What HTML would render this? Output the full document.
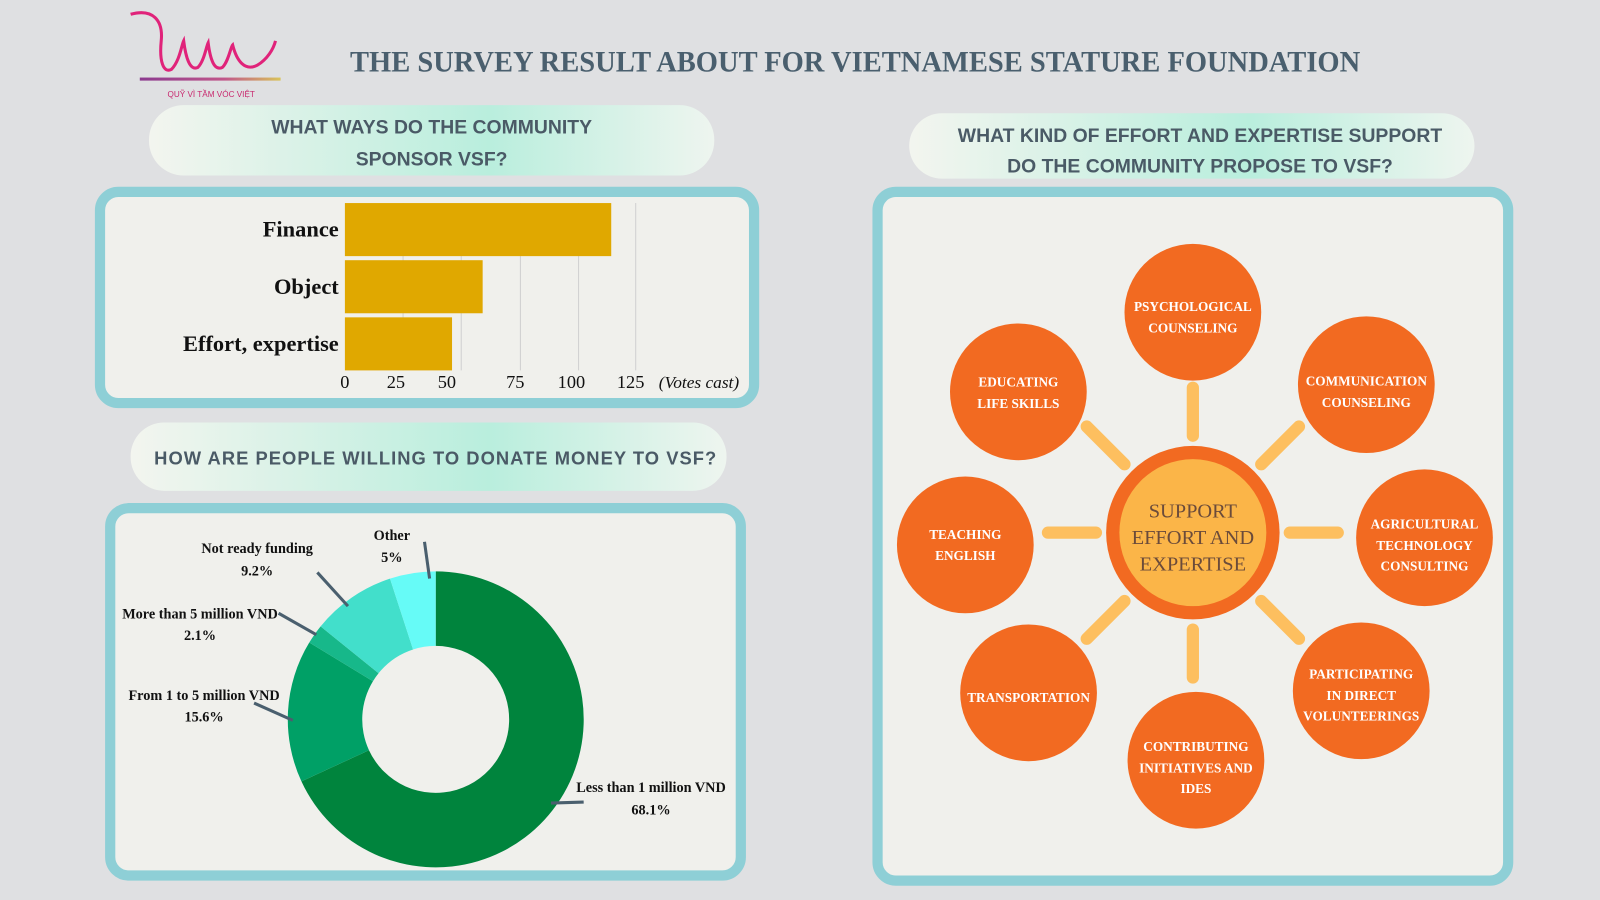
<!DOCTYPE html>
<html><head><meta charset="utf-8"><style>
html,body{margin:0;padding:0;background:#dfe0e2;}
svg{display:block;}
</style></head><body>
<svg width="1600" height="900" viewBox="0 0 1568 882" xmlns="http://www.w3.org/2000/svg">
<defs>
<linearGradient id="pg" x1="0" x2="1" y1="0" y2="0">
<stop offset="0" stop-color="#f3f5ef"/><stop offset="0.6" stop-color="#b9eedd"/><stop offset="1" stop-color="#eef5ef"/>
</linearGradient>
<linearGradient id="lg" x1="0" x2="1"><stop offset="0" stop-color="#8b3a8f"/><stop offset="0.6" stop-color="#c1568a"/><stop offset="1" stop-color="#d9c45a"/></linearGradient>
</defs>
<rect width="1568" height="882" fill="#dfe0e2"/>
<path d="M128 14 C150 8 160 20 158 40 C156 60 160 72 168 68 C176 60 178 44 180 40 C182 56 186 70 194 66 C200 60 202 46 204 42 C206 58 210 70 218 66 C224 60 226 46 228 44 C232 60 240 70 252 64 C262 58 268 48 270 40" fill="none" stroke="#e0237a" stroke-width="3"/>
<rect x="137" y="76" width="138" height="3" fill="url(#lg)"/>
<text x="207" y="95" font-family="Liberation Sans, sans-serif" font-size="8" fill="#c8286e" text-anchor="middle">QUỸ VÌ TẦM VÓC VIỆT</text>
<text x="343" y="70" textLength="990" lengthAdjust="spacingAndGlyphs" font-family="Liberation Serif, serif" font-weight="bold" font-size="29" fill="#4a5f6e">THE SURVEY RESULT ABOUT FOR VIETNAMESE STATURE FOUNDATION</text>
<rect x="146" y="103" width="554" height="69" rx="34" fill="url(#pg)"/>
<text font-family="Liberation Sans, sans-serif" font-weight="bold" font-size="19" fill="#4a5a66" text-anchor="middle"><tspan x="423" y="131">WHAT WAYS DO THE COMMUNITY</tspan><tspan x="423" y="162">SPONSOR VSF?</tspan></text>
<rect x="98" y="188" width="641" height="207" rx="18" fill="#f0f0ec" stroke="#8ecfd6" stroke-width="10"/>
<g stroke="#d0d0d0" stroke-width="1">
<line x1="395" y1="199" x2="395" y2="363"/><line x1="452" y1="199" x2="452" y2="363"/><line x1="510" y1="199" x2="510" y2="363"/><line x1="567" y1="199" x2="567" y2="363"/><line x1="623" y1="199" x2="623" y2="363"/>
</g>
<rect x="338" y="199" width="261" height="52" fill="#e0a800"/>
<rect x="338" y="255" width="135" height="52" fill="#e0a800"/>
<rect x="338" y="311" width="105" height="52" fill="#e0a800"/>
<g font-family="Liberation Serif, serif" font-weight="bold" font-size="22" fill="#111" text-anchor="end">
<text x="332" y="232">Finance</text><text x="332" y="288">Object</text><text x="332" y="344">Effort, expertise</text>
</g>
<g font-family="Liberation Serif, serif" font-size="18" fill="#111" text-anchor="middle">
<text x="338" y="380">0</text><text x="388" y="380">25</text><text x="438" y="380">50</text><text x="505" y="380">75</text><text x="560" y="380">100</text><text x="618" y="380">125</text>
<text x="685" y="380" font-style="italic" font-size="17">(Votes cast)</text>
</g>
<rect x="128" y="414" width="584" height="67" rx="33" fill="url(#pg)"/>
<text x="427" y="455" font-family="Liberation Sans, sans-serif" font-weight="bold" font-size="18" letter-spacing="1" fill="#4a5a66" text-anchor="middle">HOW ARE PEOPLE WILLING TO DONATE MONEY TO VSF?</text>
<rect x="108" y="498" width="618" height="360" rx="18" fill="#f0f0ec" stroke="#8ecfd6" stroke-width="10"/>
<path d="M427 560 A145 145 0 1 1 295.4 765.8 L361.6 735.2 A72 72 0 1 0 427 633 Z" fill="#00843d"/>
<path d="M295.4 765.8 A145 145 0 0 1 303.1 629.7 L365.5 667.6 A72 72 0 0 0 361.6 735.2 Z" fill="#00a066"/>
<path d="M303.1 629.7 A145 145 0 0 1 314.2 613.9 L371 659.8 A72 72 0 0 0 365.5 667.6 Z" fill="#17b88a"/>
<path d="M314.2 613.9 A145 145 0 0 1 382.2 567.1 L404.8 636.5 A72 72 0 0 0 371 659.8 Z" fill="#42dfcb"/>
<path d="M382.2 567.1 A145 145 0 0 1 427 560 L427 633 A72 72 0 0 0 404.8 636.5 Z" fill="#66fbf7"/>
<g stroke="#4a5f6e" stroke-width="3">
<line x1="416" y1="531" x2="421" y2="567"/><line x1="311" y1="561" x2="341" y2="594"/><line x1="273" y1="601" x2="310" y2="622"/><line x1="249" y1="689" x2="287" y2="706"/><line x1="540" y1="787" x2="572" y2="786"/>
</g>
<g font-family="Liberation Serif, serif" font-weight="bold" font-size="14" fill="#111" text-anchor="middle">
<text x="384" y="529">Other</text><text x="384" y="551">5%</text>
<text x="252" y="542">Not ready funding</text><text x="252" y="564">9.2%</text>
<text x="196" y="606">More than 5 million VND</text><text x="196" y="627">2.1%</text>
<text x="200" y="686">From 1 to 5 million VND</text><text x="200" y="707">15.6%</text>
<text x="638" y="776">Less than 1 million VND</text><text x="638" y="798">68.1%</text>
</g>
<rect x="891" y="111" width="554" height="64" rx="32" fill="url(#pg)"/>
<text font-family="Liberation Sans, sans-serif" font-weight="bold" font-size="19" fill="#4a5a66" text-anchor="middle"><tspan x="1176" y="139">WHAT KIND OF EFFORT AND EXPERTISE SUPPORT</tspan><tspan x="1176" y="169">DO THE COMMUNITY PROPOSE TO VSF?</tspan></text>
<rect x="860" y="188" width="618" height="675" rx="18" fill="#f0f0ec" stroke="#8ecfd6" stroke-width="10"/>
<g stroke="#fdbf5f" stroke-width="12" stroke-linecap="round" transform="translate(1169 522)">
<line x1="0" y1="-95" x2="0" y2="-142"/><line x1="0" y1="95" x2="0" y2="142"/><line x1="95" y1="0" x2="142" y2="0"/><line x1="-95" y1="0" x2="-142" y2="0"/>
<line x1="67" y1="-67" x2="104" y2="-104"/><line x1="-67" y1="-67" x2="-104" y2="-104"/><line x1="67" y1="67" x2="104" y2="104"/><line x1="-67" y1="67" x2="-104" y2="104"/>
</g>
<circle cx="1169" cy="522" r="85" fill="#f26a21"/>
<circle cx="1169" cy="522" r="72" fill="#fbb548"/>
<text font-family="Liberation Serif, serif" font-size="20" fill="#6b4b3a" text-anchor="middle"><tspan x="1169" y="507">SUPPORT</tspan><tspan x="1169" y="533">EFFORT AND</tspan><tspan x="1169" y="559">EXPERTISE</tspan></text>
<g fill="#f26a21">
<circle cx="1169" cy="306" r="67"/><circle cx="1339" cy="377" r="67"/><circle cx="1396" cy="527" r="67"/><circle cx="1334" cy="677" r="67"/>
<circle cx="1172" cy="745" r="67"/><circle cx="1008" cy="679" r="67"/><circle cx="946" cy="534" r="67"/><circle cx="998" cy="384" r="67"/>
</g>
<g font-family="Liberation Serif, serif" font-weight="bold" font-size="13" fill="#fff" text-anchor="middle">
<text><tspan x="1169" y="305">PSYCHOLOGICAL</tspan><tspan x="1169" y="326">COUNSELING</tspan></text>
<text><tspan x="1339" y="378">COMMUNICATION</tspan><tspan x="1339" y="399">COUNSELING</tspan></text>
<text><tspan x="1396" y="518">AGRICULTURAL</tspan><tspan x="1396" y="539">TECHNOLOGY</tspan><tspan x="1396" y="559">CONSULTING</tspan></text>
<text><tspan x="1334" y="665">PARTICIPATING</tspan><tspan x="1334" y="686">IN DIRECT</tspan><tspan x="1334" y="706">VOLUNTEERINGS</tspan></text>
<text><tspan x="1172" y="736">CONTRIBUTING</tspan><tspan x="1172" y="757">INITIATIVES AND</tspan><tspan x="1172" y="777">IDES</tspan></text>
<text><tspan x="1008" y="688">TRANSPORTATION</tspan></text>
<text><tspan x="946" y="528">TEACHING</tspan><tspan x="946" y="549">ENGLISH</tspan></text>
<text><tspan x="998" y="379">EDUCATING</tspan><tspan x="998" y="400">LIFE SKILLS</tspan></text>
</g>
</svg>
</body></html>
